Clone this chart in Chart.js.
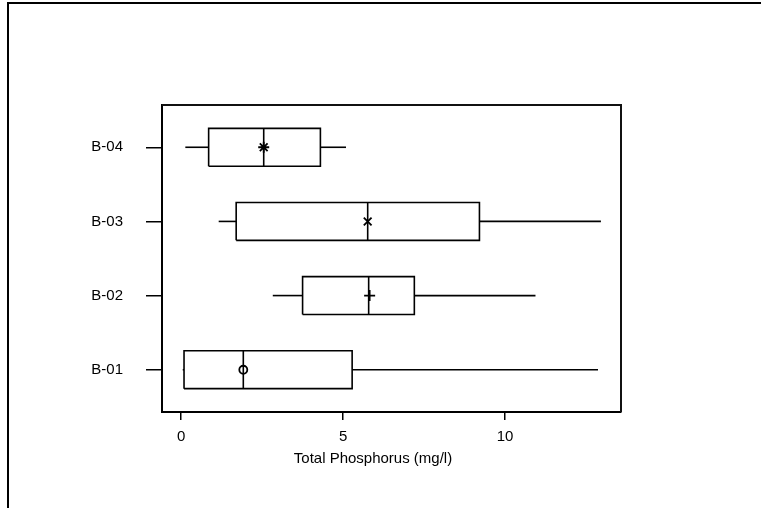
<!DOCTYPE html>
<html>
<head>
<meta charset="utf-8">
<script src="https://cdn.jsdelivr.net/npm/chart.js@4.4.1/dist/chart.umd.min.js"></script>
<style>
  html, body { margin: 0; padding: 0; background: #fff; }
  canvas { display: block; }
</style>
</head>
<body>
<canvas id="boxChart" width="761" height="508"></canvas>
<script>
// valores (mg/l)
const sites = ['B-01', 'B-02', 'B-03', 'B-04'];
const whiskerLow = [0.05, 2.83, 1.16, 0.13];
const q1 = [0.09, 3.75, 1.70, 0.85];
const median = [1.92, 5.79, 5.76, 2.55];
const q3 = [5.28, 7.20, 9.21, 4.30];
const whiskerHigh = [12.87, 10.94, 12.96, 5.09];
const means = [1.92, 5.82, 5.76, 2.55];
const meanStyles = ['circle', 'cross', 'crossRot', 'star'];
const xTicks = [0, 5, 10];

const BOX_HALF = 0.255;
const FONT = { family: '"Liberation Sans", Arial, sans-serif', size: 15 };

function segment(points) {
  return {
    type: 'line',
    data: points,
    borderColor: '#000',
    borderWidth: 1.6,
    borderJoinStyle: 'miter',
    pointRadius: 0,
    fill: false,
    tension: 0
  };
}

const datasets = [];
sites.forEach((site, i) => {
  const y = i + 1;
  datasets.push(segment([{ x: whiskerLow[i], y: y }, { x: q1[i], y: y }]));
  datasets.push(segment([{ x: q3[i], y: y }, { x: whiskerHigh[i], y: y }]));
  datasets.push(segment([
    { x: q1[i], y: y - BOX_HALF },
    { x: q3[i], y: y - BOX_HALF },
    { x: q3[i], y: y + BOX_HALF },
    { x: q1[i], y: y + BOX_HALF },
    { x: q1[i], y: y - BOX_HALF }
  ]));
  datasets.push(segment([{ x: median[i], y: y - BOX_HALF }, { x: median[i], y: y + BOX_HALF }]));
});

datasets.push({
  type: 'line',
  showLine: false,
  data: means.map((m, i) => ({ x: m, y: i + 1 })),
  pointStyle: meanStyles,
  pointRadius: meanStyles.map(s => s === 'circle' ? 4 : 5.5),
  pointBorderColor: '#000',
  pointBackgroundColor: 'rgba(0,0,0,0)',
  pointBorderWidth: 1.8
});

const framePlugin = {
  id: 'frame',
  beforeDraw(chart) {
    const ctx = chart.ctx;
    ctx.save();
    ctx.strokeStyle = '#000';
    ctx.lineWidth = 2;
    ctx.beginPath();
    ctx.moveTo(8, chart.height);
    ctx.lineTo(8, 3);
    ctx.lineTo(chart.width, 3);
    ctx.stroke();
    ctx.restore();
  },
  afterDraw(chart) {
    const ctx = chart.ctx;
    const a = chart.chartArea;
    ctx.save();
    ctx.strokeStyle = '#111';
    ctx.lineWidth = 2;
    ctx.beginPath();
    ctx.moveTo(a.left, a.top);
    ctx.lineTo(a.right, a.top);
    ctx.lineTo(a.right, a.bottom);
    ctx.stroke();
    // título do eixo x
    ctx.fillStyle = '#000';
    ctx.font = FONT.size + 'px ' + FONT.family;
    ctx.textAlign = 'center';
    ctx.textBaseline = 'middle';
    ctx.fillText('Total Phosphorus (mg/l)', a.left + 211, 459);
    ctx.restore();
  }
};

new Chart(document.getElementById('boxChart').getContext('2d'), {
  type: 'line',
  data: { datasets: datasets },
  plugins: [framePlugin],
  options: {
    responsive: false,
    animation: false,
    events: [],
    layout: { padding: { left: 0, top: 105, right: 140, bottom: 0 } },
    plugins: { legend: { display: false }, tooltip: { enabled: false } },
    scales: {
      x: {
        type: 'linear',
        min: -0.59,
        max: 13.58,
        afterBuildTicks: (scale) => { scale.ticks = xTicks.map(v => ({ value: v })); },
        afterFit: (scale) => { scale.height = 96; },
        grid: { drawOnChartArea: false, drawTicks: true, tickLength: 8, color: '#000', lineWidth: 1.5 },
        border: { display: true, color: '#000', width: 2 },
        ticks: { color: '#000', font: FONT, padding: 8, maxRotation: 0 }
      },
      y: {
        type: 'linear',
        min: 0.43,
        max: 4.57,
        afterBuildTicks: (scale) => { scale.ticks = sites.map((s, i) => ({ value: i + 1 })); },
        afterFit: (scale) => { scale.width = 162; },
        grid: { drawOnChartArea: false, drawTicks: true, tickLength: 16, color: '#000', lineWidth: 1.5 },
        border: { display: true, color: '#000', width: 2 },
        ticks: {
          color: '#000',
          font: FONT,
          padding: 23,
          callback: (v) => sites[Math.round(v) - 1]
        }
      }
    }
  }
});
</script>
</body>
</html>
